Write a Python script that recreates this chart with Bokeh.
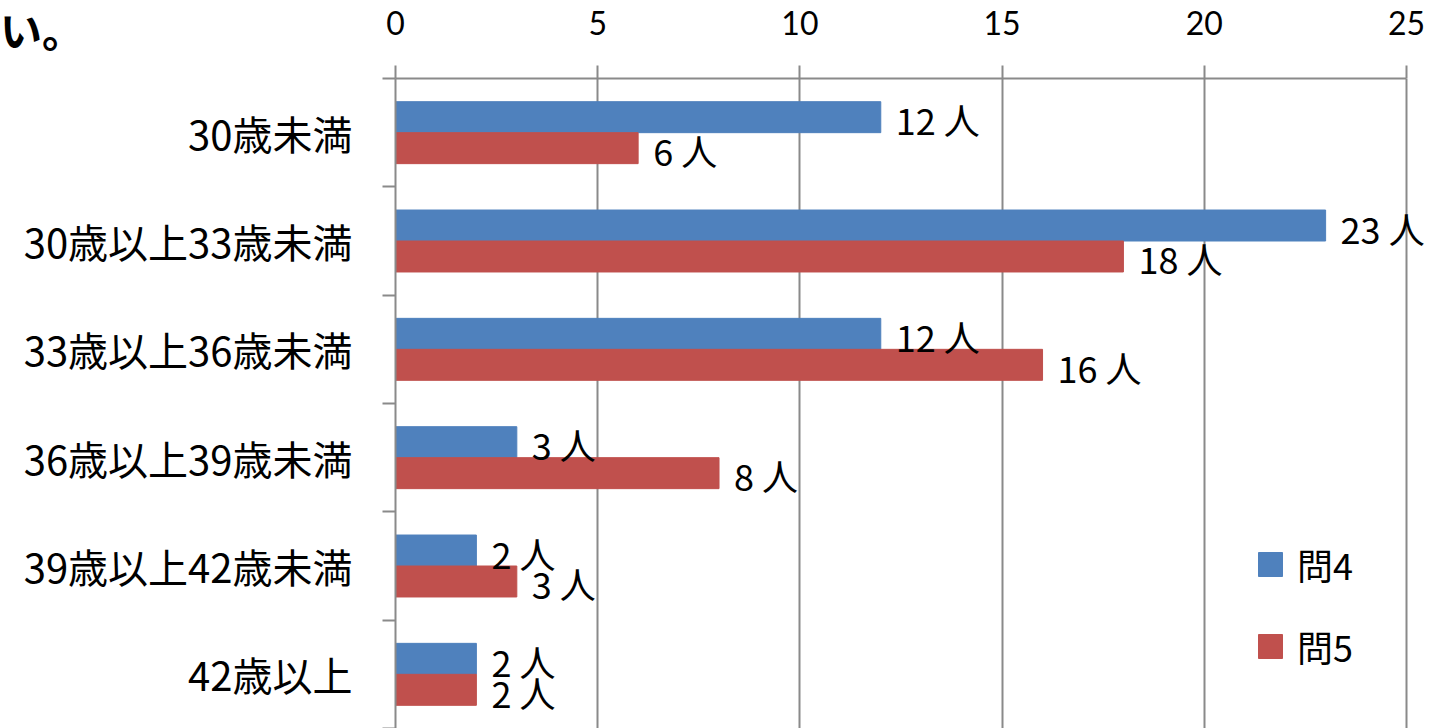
from bokeh.plotting import figure
from bokeh.models import (Range1d, FixedTicker, LinearAxis, ColumnDataSource,
                          Legend, LegendItem, Grid, Div)
from bokeh.layouts import column
from bokeh.embed import file_html
from bokeh.resources import INLINE
from bokeh.core.properties import value

# ---- data ----
categories = ["30歳未満", "30歳以上33歳未満", "33歳以上36歳未満",
              "36歳以上39歳未満", "39歳以上42歳未満", "42歳以上"]
q4_values = [12, 23, 12, 3, 2, 2]
q5_values = [6, 18, 16, 8, 3, 2]
series_names = ["問4", "問5"]
x_ticks = [0, 5, 10, 15, 20, 25]
unit = "人"
heading_tail = "い。"

# ---- style ----
FONT = "Noto Sans CJK JP"
NUMFONT = "Lato"
GRID = "#8a8a8a"
BLUE = "#4F81BD"
RED = "#C0504D"

n = len(categories)
idx = list(range(n))
bar_h = 0.286
y4 = [i + 0.5 - bar_h / 2 for i in idx]
y5 = [i + 0.5 + bar_h / 2 for i in idx]

src4 = ColumnDataSource(dict(y=y4, v=q4_values, lab=[f"{v} {unit}" for v in q4_values]))
src5 = ColumnDataSource(dict(y=y5, v=q5_values, lab=[f"{v} {unit}" for v in q5_values]))

W, H = 1433, 728
left_px, top_px = 395, 78
axis_px = 1011  # pixels spanning 0..25
x_max = x_ticks[-1] * (W - left_px) / axis_px

p = figure(width=W, height=H, output_backend="svg", toolbar_location=None,
           x_range=Range1d(0, x_max), y_range=Range1d(n, 0),
           x_axis_location=None, y_axis_location=None,
           min_border_left=left_px, min_border_right=0,
           min_border_top=top_px, min_border_bottom=0)
p.outline_line_color = None
p.background_fill_color = "white"
p.border_fill_color = "white"
for g in p.grid:
    g.visible = False

xt = FixedTicker(ticks=x_ticks)
p.add_layout(Grid(dimension=0, ticker=xt, grid_line_color=GRID, grid_line_width=2))

xaxis = LinearAxis(ticker=xt, bounds=(x_ticks[0], x_ticks[-1]),
                   axis_line_color=GRID, axis_line_width=2,
                   major_tick_line_color=GRID, major_tick_line_width=2,
                   major_tick_in=0, major_tick_out=13,
                   minor_tick_line_color=None,
                   major_label_text_font=NUMFONT, major_label_text_font_size="32px",
                   major_label_text_color="black", major_label_standoff=31)
p.add_layout(xaxis, "above")

yaxis = LinearAxis(ticker=FixedTicker(ticks=[i + 0.5 for i in idx],
                                      minor_ticks=list(range(n + 1))),
                   major_label_overrides={i + 0.5: c for i, c in zip(idx, categories)},
                   major_tick_line_color=None, major_tick_in=0, major_tick_out=0,
                   minor_tick_in=0, minor_tick_out=13,
                   minor_tick_line_color=GRID, minor_tick_line_width=2,
                   axis_line_color=GRID, axis_line_width=2,
                   major_label_text_font=FONT, major_label_text_font_size="40px",
                   major_label_text_color="black", major_label_standoff=30)
p.add_layout(yaxis, "left")

r4 = p.hbar(y="y", right="v", left=0, height=bar_h, source=src4,
            fill_color=BLUE, line_color=BLUE)
r5 = p.hbar(y="y", right="v", left=0, height=bar_h, source=src5,
            fill_color=RED, line_color=RED)

for s in (src4, src5):
    p.text(x="v", y="y", text="lab", source=s, x_offset=15, y_offset=2,
           text_baseline="middle", text_align="left",
           text_font=value(FONT), text_font_size="36px", text_color="black")

legend = Legend(items=[LegendItem(label=series_names[0], renderers=[r4]),
                       LegendItem(label=series_names[1], renderers=[r5])],
                location=(860, 56), orientation="vertical",
                glyph_width=30, glyph_height=30, label_standoff=12,
                label_text_font=FONT, label_text_font_size="36px",
                label_text_color="black",
                label_height=50, spacing=30, padding=0, margin=0,
                border_line_color=None, background_fill_alpha=0)
p.add_layout(legend)

head = Div(text=heading_tail, width=110, height=64,
           styles={"position": "absolute", "left": "0px", "top": "0px",
                   "z-index": "10", "font-family": FONT, "font-size": "42px",
                   "font-weight": "bold", "line-height": "1.4",
                   "white-space": "nowrap", "overflow": "visible",
                   "padding": "0px", "margin": "0px", "color": "black"})

layout = column(p, head, spacing=0)
open("out.html", "w").write(file_html(layout, INLINE))
